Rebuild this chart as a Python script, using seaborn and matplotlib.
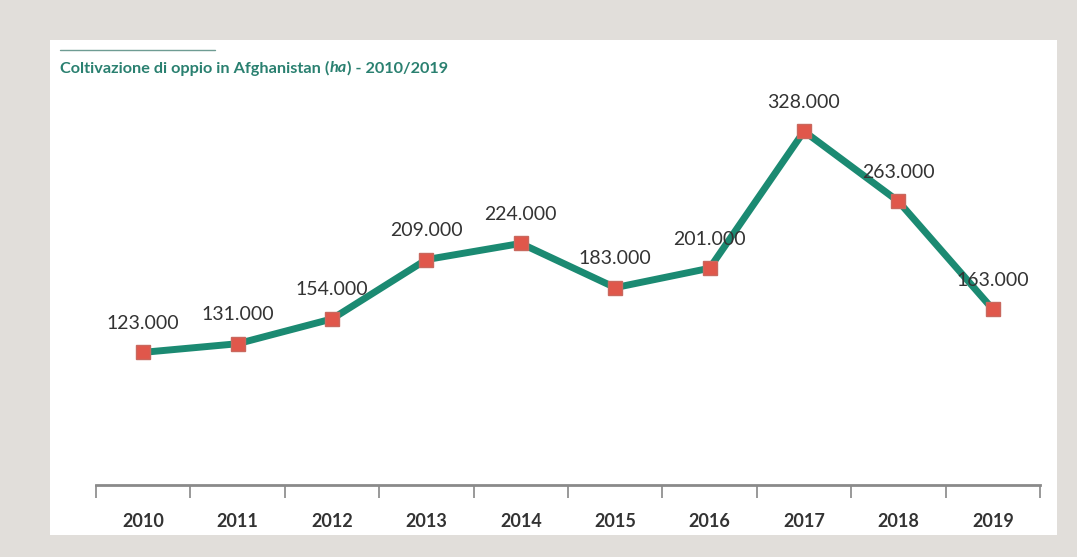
import matplotlib
matplotlib.use("Agg")
import matplotlib.pyplot as plt
import seaborn as sns
import pandas as pd
from matplotlib.patches import Rectangle

years = ["2010", "2011", "2012", "2013", "2014", "2015", "2016", "2017", "2018", "2019"]
values = [123000, 131000, 154000, 209000, 224000, 183000, 201000, 328000, 263000, 163000]
labels = ["123.000", "131.000", "154.000", "209.000", "224.000", "183.000", "201.000", "328.000", "263.000", "163.000"]

sns.set_theme(style="white")
plt.rcParams['font.family'] = ['Lato', 'DejaVu Sans']

W, H = 1077, 557
fig = plt.figure(figsize=(W / 100, H / 100), dpi=100)
fig.patch.set_facecolor("#e1deda")
fig.patches.append(Rectangle((50 / W, 1 - 535 / H), (1057 - 50) / W, (535 - 40) / H,
                             transform=fig.transFigure, facecolor="white", edgecolor="none", zorder=-5))

ax = fig.add_axes([96 / W, 1 - 485 / H, 944 / W, 385 / H])
ax.set_facecolor("none")
ax.set_zorder(2)

df = pd.DataFrame({"x": range(len(years)), "year": years, "value": values})
sns.lineplot(data=df, x="x", y="value", ax=ax, color="#1b8a72", linewidth=5,
             marker="s", markersize=10, markerfacecolor="#e0574b", markeredgecolor="#c9685e",
             markeredgewidth=1)

for i, (v, lab) in enumerate(zip(values, labels)):
    ax.annotate(lab, (i, v), xytext=(0, 21), textcoords="offset points", ha="center", va="center",
                fontsize=14, color="#333333")

ax.set_xlim(-0.5, len(years) - 0.5)
ax.set_ylim(0, 357000)
ax.set_xticks(range(len(years)))
ax.set_xticklabels(years, fontsize=13, fontweight="bold", color="#333333")
ax.set_xticks([i - 0.5 for i in range(len(years) + 1)], minor=True)
ax.tick_params(axis="x", which="major", length=0, pad=20)
ax.tick_params(axis="x", which="minor", length=9, width=1.2, color="#888888", direction="out", bottom=True)
ax.set_yticks([])
ax.set_xlabel("")
ax.set_ylabel("")
for s in ["top", "right", "left"]:
    ax.spines[s].set_visible(False)
ax.spines["bottom"].set_color("#8a8a8a")
ax.spines["bottom"].set_linewidth(2)
ax.grid(False)

# title with italic part
tcolor = "#2a8070"
fs = 11.7
fig.add_artist(plt.Line2D([60 / W, 215 / W], [1 - 50 / H, 1 - 50 / H], transform=fig.transFigure,
                          color="#6f9c93", linewidth=1))
t1 = fig.text(60 / W, 1 - 68 / H, "Coltivazione di oppio in Afghanistan (", fontsize=fs,
              fontweight="bold", color=tcolor, va="center", ha="left")
t2 = fig.text(0, 0, "ha", fontsize=fs, fontweight="bold", fontstyle="italic", color=tcolor)
t3 = fig.text(0, 0, ") - 2010/2019", fontsize=fs, fontweight="bold", color=tcolor)
fig.canvas.draw()
r = fig.canvas.get_renderer()
bb1 = t1.get_window_extent(r)
t2.set_position((bb1.x1 / W, 1 - 68 / H))
t2.set_va("center")
fig.canvas.draw()
bb2 = t2.get_window_extent(r)
t3.set_position((bb2.x1 / W, 1 - 68 / H))
t3.set_va("center")

fig.savefig("out.png", dpi=100, facecolor=fig.get_facecolor())
